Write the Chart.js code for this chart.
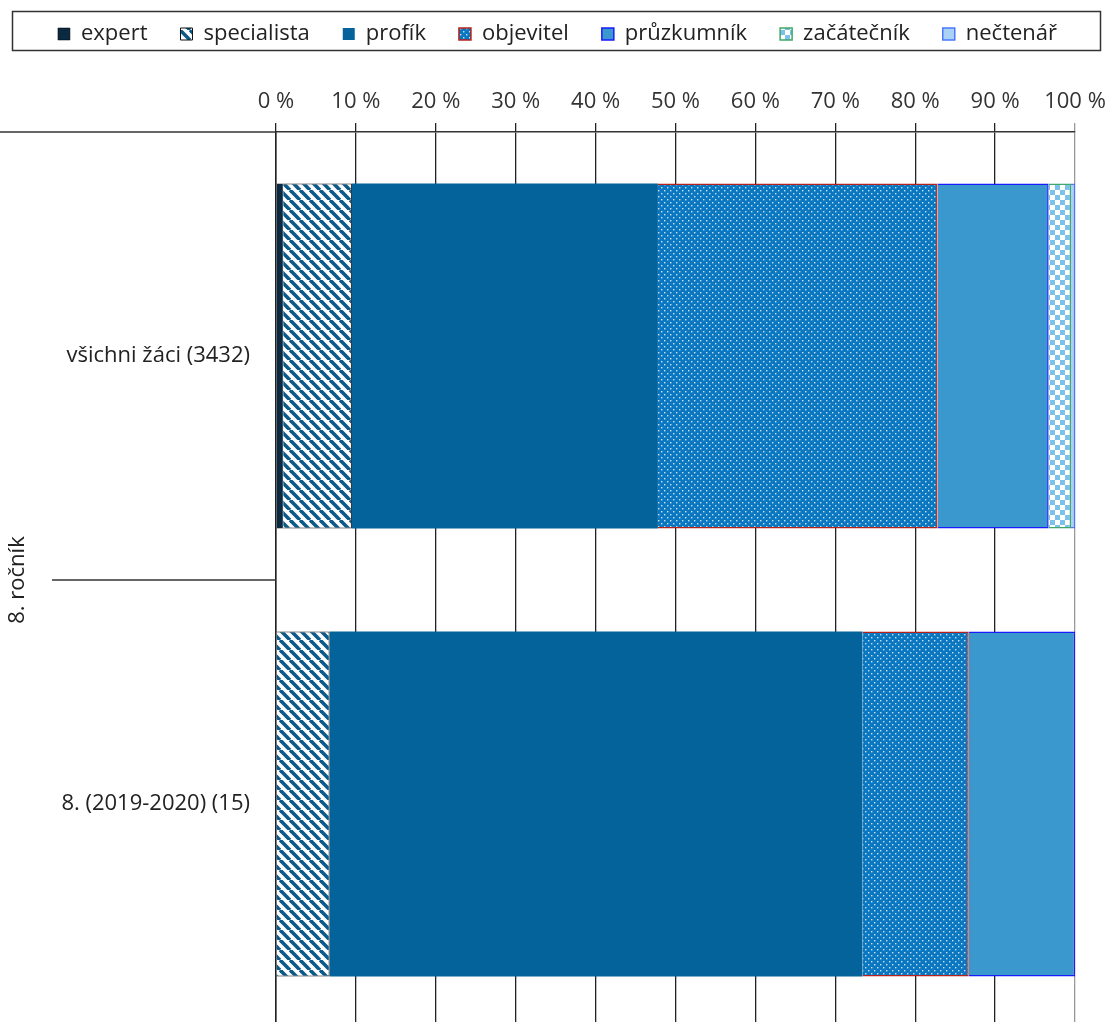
<!DOCTYPE html>
<html>
<head>
<meta charset="utf-8">
<script src="https://cdn.jsdelivr.net/npm/chart.js@4/dist/chart.umd.min.js"></script>
<style>
  html, body { margin: 0; padding: 0; background: #fff; overflow: hidden; }
  #graf { display: block; width: 1111px; height: 1030px; }
</style>
</head>
<body>
<canvas id="graf" width="1111" height="1030"></canvas>
<script>
// data (percent of pupils per level)
const kategorie = ["všichni žáci (3432)", "8. (2019-2020) (15)"];
const skupina = "8. ročník";
const expert = [0.9, 0];
const specialista = [8.6, 6.7];
const profik = [38.3, 66.7];
const objevitel = [35.0, 13.3];
const pruzkumnik = [13.9, 13.3];
const zacatecnik = [2.8, 0];
const nectenar = [0.5, 0];
const osaTicks = [0, 10, 20, 30, 40, 50, 60, 70, 80, 90, 100];

const FONT = "'Open Sans', 'Noto Sans', sans-serif";

function vzor(w, h, kresli) {
  const c = document.createElement('canvas');
  c.width = w; c.height = h;
  const g = c.getContext('2d');
  kresli(g, w, h);
  return g.createPattern(c, 'repeat');
}

// diagonal stripes
const pruhy = vzor(10, 10, (g, w, h) => {
  g.fillStyle = '#fff';
  g.fillRect(0, 0, w, h);
  g.strokeStyle = '#0b5a8a';
  g.lineWidth = 3.6;
  for (let x = -w; x <= w; x += w) {
    g.beginPath();
    g.moveTo(x, 0);
    g.lineTo(x + w, h);
    g.stroke();
  }
});

// dots
const tecky = vzor(6, 6, (g, w, h) => {
  g.fillStyle = '#0a77c0';
  g.fillRect(0, 0, w, h);
  g.fillStyle = 'rgba(235,245,255,0.85)';
  g.fillRect(1, 1, 1.4, 1.4);
  g.fillRect(4, 4, 1.4, 1.4);
});

// checkerboard
const sachovnice = vzor(10, 10, (g, w, h) => {
  g.fillStyle = '#fff';
  g.fillRect(0, 0, w, h);
  g.fillStyle = '#7cc1ea';
  g.fillRect(0, 0, 5, 5);
  g.fillRect(5, 5, 5, 5);
});

const doplnky = {
  id: 'doplnky',
  afterLayout(chart) {
    // nudge the legend row so it sits inside its frame like the original
    const lg = chart.legend;
    lg.top -= 10;
    lg.bottom -= 10;
    lg.left += 20;
    lg.right += 20;
  },
  afterDraw(chart) {
    const ctx = chart.ctx;
    const a = chart.chartArea;
    const y = chart.scales.y;
    ctx.save();
    // legend frame
    ctx.strokeStyle = '#333';
    ctx.lineWidth = 1.5;
    ctx.strokeRect(12.5, 11.5, 1088, 39);
    // top line extended to the left
    ctx.beginPath();
    ctx.moveTo(0, a.top);
    ctx.lineTo(a.left, a.top);
    ctx.stroke();
    // separator between categories
    const ys = (y.getPixelForValue(0) + y.getPixelForValue(1)) / 2;
    ctx.beginPath();
    ctx.moveTo(52, ys);
    ctx.lineTo(a.left, ys);
    ctx.stroke();
    // group label
    ctx.translate(18, ys);
    ctx.rotate(-Math.PI / 2);
    ctx.fillStyle = '#222';
    ctx.font = '22px ' + FONT;
    ctx.textAlign = 'center';
    ctx.textBaseline = 'middle';
    ctx.fillText(skupina, 0, 0);
    ctx.restore();
  }
};

new Chart(document.getElementById('graf'), {
  type: 'bar',
  data: {
    labels: kategorie,
    datasets: [
      { label: 'expert', data: expert, backgroundColor: '#0b2a42', borderColor: '#000', borderWidth: 0.5 },
      { label: 'specialista', data: specialista, backgroundColor: pruhy, borderColor: '#111', borderWidth: 1 },
      { label: 'profík', data: profik, backgroundColor: '#05639c', borderColor: '#05639c', borderWidth: 0 },
      { label: 'objevitel', data: objevitel, backgroundColor: tecky, borderColor: '#b5231c', borderWidth: 1.5 },
      { label: 'průzkumník', data: pruzkumnik, backgroundColor: '#3b98ce', borderColor: '#1a1aff', borderWidth: 1.5 },
      { label: 'začátečník', data: zacatecnik, backgroundColor: sachovnice, borderColor: '#3fa86a', borderWidth: 1.5 },
      { label: 'nečtenář', data: nectenar, backgroundColor: '#a9d2f4', borderColor: '#4a78ff', borderWidth: 1.5 }
    ]
  },
  options: {
    indexAxis: 'y',
    responsive: false,
    animation: false,
    layout: { padding: { top: 0, right: 36, bottom: 2, left: 0 } },
    datasets: { bar: { categoryPercentage: 1, barPercentage: 0.77 } },
    plugins: {
      legend: {
        position: 'top',
        labels: {
          boxWidth: 12,
          boxHeight: 12,
          padding: 33,
          color: '#222',
          font: { family: FONT, size: 22 }
        }
      },
      tooltip: { enabled: false }
    },
    scales: {
      x: {
        position: 'top',
        stacked: true,
        min: 0,
        max: 100,
        afterBuildTicks: s => { s.ticks = osaTicks.map(v => ({ value: v })); },
        afterFit: s => { s.height = 67; s.paddingLeft = 0; s.paddingRight = 0; },
        ticks: {
          callback: v => v + ' %',
          color: '#333',
          padding: 8,
          font: { family: FONT, size: 22 }
        },
        grid: {
          color: c => (c.tick && c.tick.value === 100) ? '#999' : '#222',
          lineWidth: 1.3,
          tickLength: 9
        },
        border: { color: '#333', width: 1.5 }
      },
      y: {
        stacked: true,
        afterFit: s => { s.width = 276; s.paddingTop = 0; s.paddingBottom = 0; },
        ticks: {
          color: '#222',
          padding: 18,
          font: { family: FONT, size: 22 }
        },
        grid: { display: false },
        border: { color: '#222', width: 1.5 }
      }
    }
  },
  plugins: [doplnky]
});
</script>
</body>
</html>
